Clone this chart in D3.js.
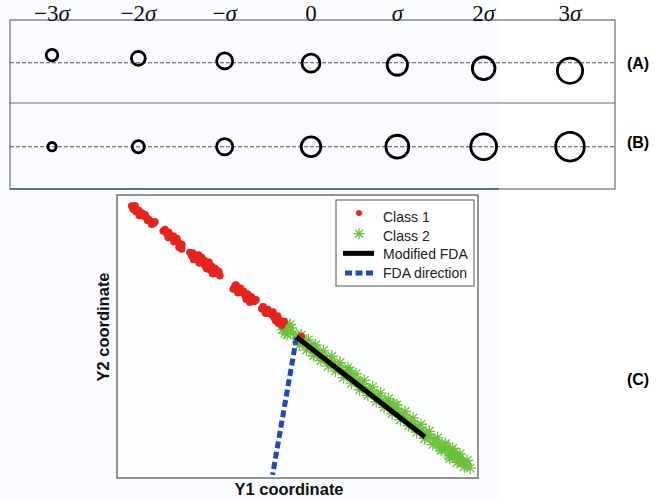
<!DOCTYPE html>
<html><head><meta charset="utf-8">
<script src="https://cdn.jsdelivr.net/npm/d3@7/dist/d3.min.js"></script>
<style>body{margin:0;background:#fff}svg{display:block}</style>
</head><body>
<script>
// ---------- data ----------
const sigmaLabels = ["−3σ","−2σ","−σ","0","σ","2σ","3σ"];
const spreadA = [0.40,0.48,0.55,0.62,0.70,0.78,0.87];
const shiftA  = [-0.95,-0.55,-0.22,0.06,0.29,0.70,1.00];
const spreadB = [0.29,0.42,0.56,0.68,0.79,0.89,0.99];
const panelLabels = ["(A)","(B)","(C)"];

const class1X = [0.41,0.45,0.53,0.64,0.73,0.82,0.91,1.01,0.96,1.28,1.38,1.47,1.52,1.61,1.70,1.75,1.79,
  2.02,2.07,2.16,2.22,2.30,2.37,2.44,2.50,2.58,2.67,2.76,2.85,2.53,3.27,3.22,3.36,3.45,3.55,3.64,3.73,3.80,3.68,
  4.01,4.10,4.19,4.29,4.35,4.40,4.47,4.56,5.10,4.63,
  0.50,0.60,0.70,0.78,0.88,1.05,0.62,0.85,
  1.33,1.43,1.56,1.66,1.80,1.42,1.58,1.72,
  2.10,2.26,2.34,2.42,2.55,2.62,2.72,2.82,2.12,2.28,2.48,2.65,
  3.30,3.42,3.50,3.62,3.72,3.85,3.35,3.58,
  4.05,4.18,4.32,4.45,4.55,4.12,4.38];
const class1Y = [9.61,9.50,9.41,9.34,9.26,9.20,9.08,8.99,8.97,8.73,8.64,8.56,8.48,8.40,8.32,8.20,8.09,
  7.97,7.85,7.79,7.70,7.74,7.62,7.50,7.42,7.35,7.30,7.23,7.15,7.56,6.80,6.68,6.64,6.56,6.44,6.36,6.29,6.24,6.21,
  5.98,5.89,5.82,5.77,5.68,5.56,5.47,5.39,5.00,5.53,
  9.62,9.46,9.35,9.30,9.13,9.05,9.28,9.10,
  8.78,8.68,8.55,8.46,8.25,8.50,8.35,8.15,
  7.95,7.88,7.80,7.68,7.62,7.48,7.40,7.30,7.72,7.60,7.40,7.22,
  6.82,6.70,6.60,6.50,6.40,6.30,6.55,6.32,
  6.05,5.95,5.86,5.72,5.55,5.82,5.62];
const class2X = [4.63,4.74,4.79,4.88,4.71,5.04,5.15,5.26,5.37,5.48,5.57,5.68,5.79,5.90,6.01,6.12,6.23,6.34,6.45,
  6.57,6.68,6.79,6.90,7.01,7.12,7.23,7.34,7.45,7.56,7.67,7.78,7.89,8.01,8.12,8.23,8.34,8.45,8.56,8.67,8.78,8.89,
  9.00,9.11,9.22,9.34,9.45,9.56,9.67,9.78,9.09,8.95,9.36,9.50,9.22,8.17,7.56,6.73,5.90,5.35,4.96,7.70,6.45,8.53,
  5.10,5.30,5.50,5.72,5.95,6.18,6.40,6.62,6.85,7.08,7.30,7.52,7.75,7.98,8.20,8.42,8.65,8.88,9.10,9.30,9.50,9.70,
  5.05,5.25,5.45,5.65,5.85,6.05,6.28,6.50,6.72,6.95,7.18,7.40,7.62,7.85,8.08,8.30,8.52,8.75,8.98,9.20,9.42,9.62,
  4.58,4.70,4.82,4.65];
const class2Y = [5.35,5.21,5.42,5.11,5.07,5.00,4.86,4.75,4.68,4.54,4.40,4.33,4.23,4.12,4.01,3.91,3.84,3.73,3.63,
  3.52,3.42,3.31,3.17,3.06,2.99,2.89,2.75,2.64,2.54,2.43,2.32,2.22,2.11,2.01,1.87,1.76,1.69,1.55,1.44,1.34,1.23,
  1.09,0.99,0.92,0.77,0.67,0.56,0.46,0.35,1.16,1.06,0.92,0.70,0.70,1.83,2.64,3.24,4.15,4.58,4.93,2.57,3.80,1.41,
  5.05,4.88,4.70,4.50,4.30,4.08,3.90,3.68,3.45,3.22,3.00,2.80,2.58,2.35,2.12,1.90,1.65,1.42,1.22,1.05,0.85,0.62,
  4.70,4.52,4.32,4.15,3.95,3.78,3.55,3.35,3.12,2.92,2.70,2.50,2.28,2.06,1.85,1.62,1.40,1.18,0.98,0.78,0.55,0.40,
  5.25,5.45,5.30,5.12];
const fdaModX = [4.97, 8.53];
const fdaModY = [4.98, 1.45];
const fdaDirX = [4.97, 4.31];
const fdaDirY = [4.95, 0.11];
const legendItems = ["Class 1","Class 2","Modified FDA","FDA direction"];
const axisTitles = ["Y1 coordinate","Y2 coordinate"];

// ---------- drawing ----------
const W = 667, H = 501;
const svg = d3.select("body").append("svg").attr("width", W).attr("height", H);
svg.append("rect").attr("width", 499).attr("height", H).attr("fill", "#f9fbfe");

// top panels
const box = {x0: 10, x1: 615, y0: 20, ymid: 103, y1: 189};
const lineA = 62.7, lineB = 146.7;
const xs = d3.scalePoint().domain(sigmaLabels).range([52, 570]);
const rs = d3.scaleLinear().domain([0, 1]).range([0, 14.5]);
const yA = d3.scaleLinear().domain([-1, 1]).range([lineA - 8, lineA + 8]);

const topG = svg.append("g");
topG.append("rect").attr("x", box.x0).attr("y", box.y0).attr("width", box.x1 - box.x0)
  .attr("height", box.y1 - box.y0).attr("fill", "none").attr("stroke", "#6b6b6b").attr("stroke-width", 1.2);
topG.append("line").attr("x1", box.x0).attr("x2", box.x1).attr("y1", box.ymid).attr("y2", box.ymid)
  .attr("stroke", "#6b6b6b").attr("stroke-width", 1.2);
topG.append("line").attr("x1", box.x0).attr("x2", 499).attr("y1", box.y1).attr("y2", box.y1)
  .attr("stroke", "#3e6a75").attr("stroke-width", 1.4);
[lineA, lineB].forEach(yy => topG.append("line").attr("x1", box.x0).attr("x2", box.x1)
  .attr("y1", yy).attr("y2", yy).attr("stroke", "#555").attr("stroke-width", 1.1).attr("stroke-dasharray", "4,2"));

topG.selectAll("circle.a").data(sigmaLabels).join("circle").attr("class", "a")
  .attr("cx", d => xs(d)).attr("cy", (d, i) => yA(shiftA[i])).attr("r", (d, i) => rs(spreadA[i]))
  .attr("fill", "none").attr("stroke", "#000").attr("stroke-width", 2.8);
topG.selectAll("circle.b").data(sigmaLabels).join("circle").attr("class", "b")
  .attr("cx", d => xs(d)).attr("cy", lineB).attr("r", (d, i) => rs(spreadB[i]))
  .attr("fill", "none").attr("stroke", "#000").attr("stroke-width", 2.8);

const lab = topG.selectAll("text.sig").data(sigmaLabels).join("text").attr("class", "sig")
  .attr("x", d => xs(d)).attr("y", 20.5).attr("text-anchor", "middle")
  .attr("font-family", "'Liberation Serif', 'Times New Roman', serif").attr("font-size", 23).attr("fill", "#111");
lab.each(function(d) {
  const t = d3.select(this);
  const parts = d.split("σ");
  if (parts[0]) t.append("tspan").text(parts[0]);
  if (d.includes("σ")) t.append("tspan").attr("font-style", "italic").text("σ");
});

const panelY = [63, 142, 379];
svg.selectAll("text.pl").data(panelLabels).join("text").attr("class", "pl")
  .attr("x", 638).attr("y", (d, i) => panelY[i]).attr("dy", "0.35em").attr("text-anchor", "middle")
  .attr("font-family", "Arial, 'Liberation Sans', sans-serif").attr("font-weight", "bold").attr("font-size", 16)
  .text(d => d);

// bottom scatter
const pl = {x0: 117, x1: 478, y0: 195, y1: 478};
const x = d3.scaleLinear().domain([0, 10]).range([pl.x0, pl.x1]);
const y = d3.scaleLinear().domain([0, 10]).range([pl.y1, pl.y0]);
const g = svg.append("g");
g.append("rect").attr("x", pl.x0).attr("y", pl.y0).attr("width", pl.x1 - pl.x0).attr("height", pl.y1 - pl.y0)
  .attr("fill", "#fdfeff").attr("stroke", "#707070").attr("stroke-width", 1.5);

const red = "#e8231e", green = "#6cc13c", blue = "#2349b5";
const starPath = (s) => {
  const a = s * Math.SQRT1_2;
  return `M${-s},0L${s},0M0,${-s}L0,${s}M${-a},${-a}L${a},${a}M${-a},${a}L${a},${-a}`;
};

g.selectAll("path.c2").data(class2X).join("path").attr("class", "c2")
  .attr("transform", (d, i) => `translate(${x(d)},${y(class2Y[i])})`)
  .attr("d", starPath(6)).attr("stroke", green).attr("stroke-width", 1.3).attr("fill", "none");
g.selectAll("circle.c1").data(class1X).join("circle").attr("class", "c1")
  .attr("cx", d => x(d)).attr("cy", (d, i) => y(class1Y[i])).attr("r", 3.8).attr("fill", red);

const line = d3.line().x(d => x(d[0])).y(d => y(d[1]));
g.append("path").datum(d3.zip(fdaDirX, fdaDirY)).attr("d", line).attr("stroke", blue)
  .attr("stroke-width", 5).attr("stroke-dasharray", "7,3.5").attr("fill", "none");
g.append("path").datum(d3.zip(fdaModX, fdaModY)).attr("d", line).attr("stroke", "#000")
  .attr("stroke-width", 5).attr("fill", "none");

// legend
const lg = svg.append("g");
lg.append("rect").attr("x", 336).attr("y", 200).attr("width", 138).attr("height", 86)
  .attr("fill", "#fff").attr("stroke", "#555").attr("stroke-width", 1);
const ly = d3.scalePoint().domain(legendItems).range([217, 273]);
lg.append("circle").attr("cx", 359).attr("cy", ly(legendItems[0]) - 4).attr("r", 3).attr("fill", red);
lg.append("path").attr("transform", `translate(359,${ly(legendItems[1]) - 2})`).attr("d", starPath(5.5))
  .attr("stroke", green).attr("stroke-width", 1.3);
lg.append("line").attr("x1", 343).attr("x2", 374).attr("y1", ly(legendItems[2]) - 1).attr("y2", ly(legendItems[2]) - 1)
  .attr("stroke", "#000").attr("stroke-width", 5);
lg.append("line").attr("x1", 345).attr("x2", 374).attr("y1", ly(legendItems[3])).attr("y2", ly(legendItems[3]))
  .attr("stroke", blue).attr("stroke-width", 5).attr("stroke-dasharray", "7,3.5");
lg.selectAll("text").data(legendItems).join("text").attr("x", 383).attr("y", d => ly(d)).attr("dy", "0.35em")
  .attr("font-family", "Arial, 'Liberation Sans', sans-serif").attr("font-size", 14).attr("fill", "#222")
  .text(d => d);

// axis titles
svg.append("text").attr("x", 289).attr("y", 489).attr("dy", "0.35em").attr("text-anchor", "middle")
  .attr("font-family", "Arial, 'Liberation Sans', sans-serif").attr("font-weight", "bold").attr("font-size", 16.5)
  .attr("fill", "#111").text(axisTitles[0]);
svg.append("text").attr("transform", "translate(103,327) rotate(-90)").attr("dy", "0.35em").attr("text-anchor", "middle")
  .attr("font-family", "Arial, 'Liberation Sans', sans-serif").attr("font-weight", "bold").attr("font-size", 16.5)
  .attr("fill", "#111").text(axisTitles[1]);
</script>
</body></html>
